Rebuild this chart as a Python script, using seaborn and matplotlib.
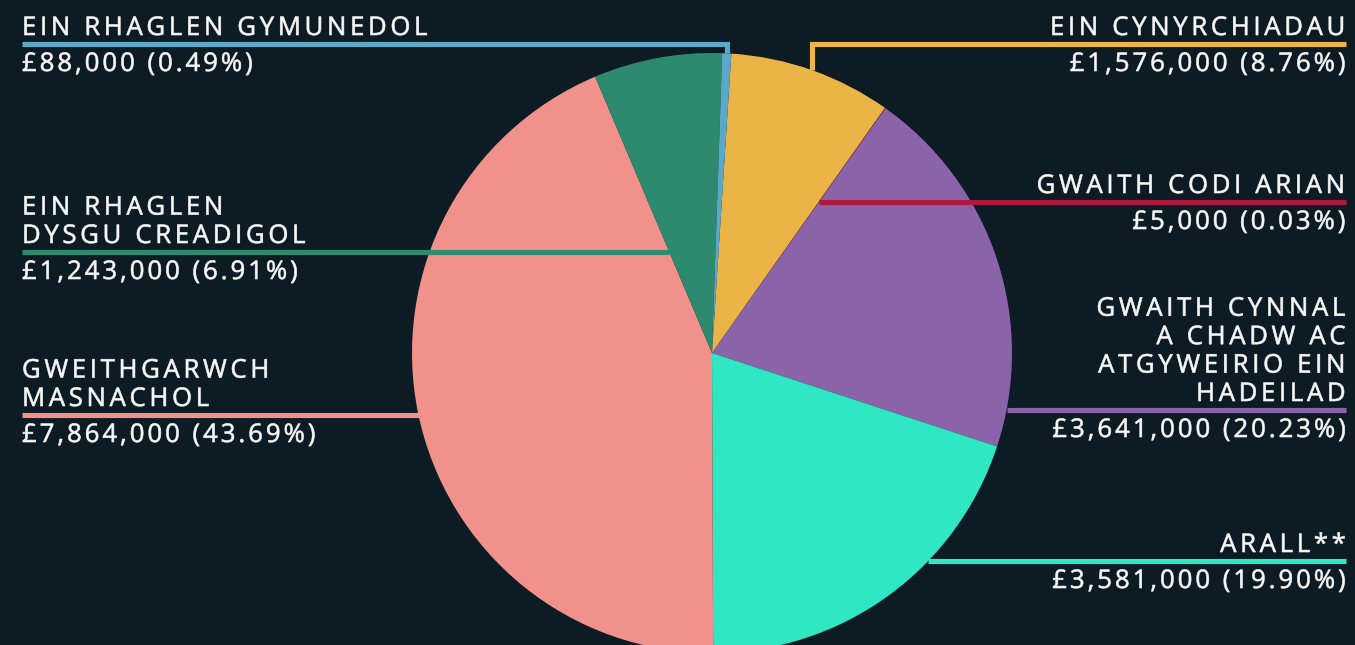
import numpy as np
import matplotlib
matplotlib.use('Agg')
import matplotlib.pyplot as plt
import seaborn as sns
from matplotlib.path import Path
from matplotlib.patheffects import AbstractPathEffect
from matplotlib.transforms import Affine2D

# data, clockwise from the top of the pie
categories = [
    'EIN CYNYRCHIADAU',
    'GWAITH CODI ARIAN',
    'GWAITH CYNNAL\nA CHADW AC\nATGYWEIRIO EIN\nHADEILAD',
    'ARALL**',
    'GWEITHGARWCH\nMASNACHOL',
    'EIN RHAGLEN\nDYSGU CREADIGOL',
    'EIN RHAGLEN GYMUNEDOL',
]
amounts = [1576000, 5000, 3641000, 3581000, 7864000, 1243000, 88000]
slice_colors = ['#EBB447', '#B01A40', '#8A63A8', '#2FE8C3', '#F0918B', '#2E8A6E', '#5BA8C8']

# label layout: which side, leader line height (px from top), how the line meets the pie
label_side = ['right', 'right', 'right', 'right', 'left', 'left', 'left']
line_y = [44, 202, 410, 561, 415, 252, 44]
attach = ['drop', 'row', 'row', 'row', 'row', 'row', 'drop']

W, H = 1355, 645
BG = '#0D1B24'
TXT = '#F7F7F7'
FS = 18.5
TRACK_TITLE = 3.7
TRACK_VALUE = 3.0


class Tracking(AbstractPathEffect):
    """Letter spacing: move each glyph of a line by its character index."""

    def __init__(self, text, spacing, align, stroke=0.45):
        super().__init__()
        self.lines = text.split('\n')
        self.spacing = spacing
        self.align = align
        self.stroke = stroke
        self.calls = 0

    def draw_path(self, renderer, gc, tpath, affine, rgbFace=None):
        line = self.lines[self.calls % len(self.lines)]
        self.calls += 1
        path = affine.transform_path(tpath)
        verts = path.vertices.copy()
        codes = path.codes
        if codes is None or len(verts) == 0:
            renderer.draw_path(gc, tpath, affine, rgbFace)
            return
        starts = list(np.where(codes == Path.MOVETO)[0]) + [len(codes)]
        contours = []
        for a, b in zip(starts[:-1], starts[1:]):
            keep = codes[a:b] != Path.CLOSEPOLY
            xs = verts[a:b][keep, 0]
            if len(xs):
                contours.append([xs.min(), xs.max(), a, b])
        contours.sort(key=lambda c: c[0])
        groups = []
        for c in contours:
            if groups:
                g = groups[-1]
                overlap = g[1] - c[0]
                if overlap > 0.5 * min(c[1] - c[0], g[1] - g[0]):
                    g[1] = max(g[1], c[1])
                    g[2].append(c)
                    continue
            groups.append([c[0], c[1], [c]])
        idx = [i for i, ch in enumerate(line) if not ch.isspace()]
        if len(idx) != len(groups):
            idx = list(range(len(groups)))
        last = len(line) - 1 if len(idx) == len(groups) else idx[-1]
        for g, s in zip(groups, idx):
            shift = s * self.spacing if self.align == 'left' else (s - last) * self.spacing
            for c in g[2]:
                verts[c[2]:c[3], 0] += shift
        gc2 = renderer.new_gc()
        gc2.copy_properties(gc)
        gc2.set_linewidth(self.stroke)
        renderer.draw_path(gc2, Path(verts, codes), Affine2D(), rgbFace)
        gc2.restore()


def reach_x(w, y, side):
    cx, cy = w.center
    r = w.r
    xs = np.linspace(cx - r, cx + r, 12001)
    dx = xs - cx
    dy = y - cy
    ang = np.degrees(np.arctan2(dy, dx))
    inside = (dx ** 2 + dy ** 2 <= r ** 2) & (((ang - w.theta1) % 360) <= (w.theta2 - w.theta1))
    xs = xs[inside]
    return xs.min() if side == 'left' else xs.max()


sns.set_theme(style='white')
plt.rcParams['font.family'] = ['Open Sans', 'DejaVu Sans']

palette = sns.color_palette(slice_colors)
total = sum(amounts)

fig = plt.figure(figsize=(W / 100, H / 100), dpi=100, facecolor=BG)
ax = fig.add_axes([0, 0, 1, 1])
ax.set_facecolor(BG)

wedges, _ = ax.pie(
    amounts,
    colors=palette,
    startangle=86.3,
    counterclock=False,
    center=(712, H - 353),
    radius=300,
    wedgeprops=dict(linewidth=0),
)
ax.set_xlim(0, W)
ax.set_ylim(0, H)
ax.axis('off')

for w, name, amt, col, side, ly_px, how in zip(wedges, categories, amounts, slice_colors,
                                             label_side, line_y, attach):
    ly = H - ly_px
    x0 = 22 if side == 'left' else 1346
    if how == 'drop':
        mid = np.radians((w.theta1 + w.theta2) / 2)
        xe = w.center[0] + w.r * np.cos(mid)
        ye = w.center[1] + w.r * np.sin(mid)
        xs_line, ys_line = [x0, xe, xe], [ly, ly, ye]
    else:
        xe = reach_x(w, ly, side)
        xs_line, ys_line = [x0, xe], [ly, ly]
    ax.plot(xs_line, ys_line, color=col, lw=3.7, solid_capstyle='butt',
            solid_joinstyle='miter', zorder=3)

    ax.text(x0, ly + 3, name, ha=side, va='bottom', fontsize=FS, color=TXT,
            linespacing=1.18, path_effects=[Tracking(name, TRACK_TITLE, side)], zorder=4)
    pct = amt / total * 100
    value = f'£{amt:,.0f} ({pct:.2f}%)'
    ax.text(x0, ly - 8, value, ha=side, va='top', fontsize=FS, color=TXT,
            path_effects=[Tracking(value, TRACK_VALUE, side)], zorder=4)

plt.savefig('out.png', dpi=100, facecolor=BG)
